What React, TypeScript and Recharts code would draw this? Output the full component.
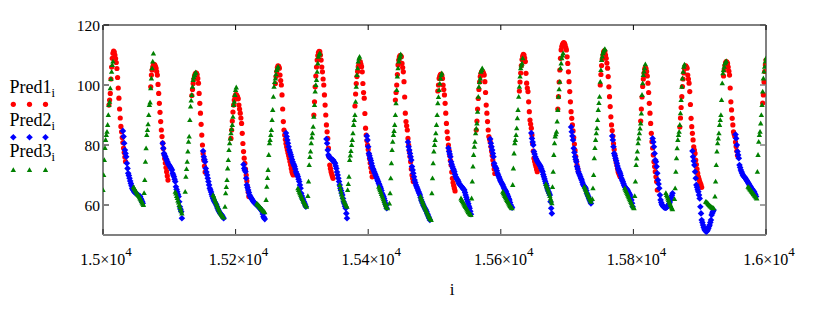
import React from 'react';
import { ScatterChart, Scatter, XAxis, YAxis, ReferenceLine, Legend } from 'recharts';

type Seg = [number, number[]];

// Pred1 (red circles): [first index i, values at i, i+1, ...]
const pred1Segments: Seg[] = [
  [15009, [93.3, 95, 97.2, 102, 106, 108.9, 110.6, 111.3, 111, 110, 108.8, 107.5, 105.5, 102.5, 99, 95.6, 92, 89, 86.2, 84.4, 82.5, 80.8, 79, 77.5, 76, 74.5]],
  [15072, [99.4, 103.3, 105, 106, 106.7, 106.9, 106.7, 106.2, 105.6, 104.5, 103.3, 100.2, 97.2, 93.9, 90.9, 87.8, 85, 82.8, 80.6, 78.8, 77, 75.5, 74, 72.5, 71.1, 69.7, 68.3]],
  [15134, [96.5, 98.5, 100.5, 102, 103, 103.6, 104, 104, 103.5, 102.2, 100.6, 97.2, 93.9, 90.6, 86.9, 83.3, 80, 77.2, 75, 73, 71]],
  [15193, [82.2, 85, 88, 91, 93.3, 95, 96.2, 96.7, 96.8, 96.5, 96, 95.4, 93.3, 92, 90.6, 89, 87.2, 83.9, 80.5, 77.8, 75.6, 73.9, 72, 70, 68, 66, 64.3, 62.8]],
  [15260, [100.5, 102.8, 104.5, 105.8, 106.4, 106.2, 105.6, 103.3, 101.5, 100, 96.7, 92, 87.8, 85, 83.3, 81.8, 80.5, 79.4, 78.4, 77.4, 76.5, 75.6, 74.5, 73.4, 72.2, 71.1, 70.5, 70]],
  [15318, [90, 94.4, 99.4, 103, 106, 108.3, 109.8, 110.8, 111.2, 111.1, 110, 108.3, 106, 104.4, 102, 100, 96.7, 93.3, 90, 86.7, 84.4, 82.2, 79, 76, 73.3, 72.2, 71.1, 70.3, 69.6, 68.9]],
  [15380, [93, 97, 100.5, 102.8, 104.5, 106.1, 107, 107.6, 107.8, 107, 106.1, 104.4, 100.5, 97.5, 95.6, 90.5, 85.6, 83.3, 81.5, 80, 78.5, 77, 75.5, 74, 72.5, 71, 69.4]],
  [15441, [95, 97.5, 100, 103.5, 106.7, 108.3, 109.3, 109.8, 109.8, 109.4, 107.2, 105.8, 104.4, 101.1, 96, 90.6, 87.8, 86.4, 85, 82.2, 80, 78, 76.2, 74.4, 72, 70, 68.9, 67.8]],
  [15505, [98, 100, 102.2, 103, 103.5, 103.6, 103.2, 102.2, 100, 98.5, 96.7, 93.9, 90.6, 87.2, 84.4, 82.2, 80, 78.2, 76.5, 74.9, 73.3, 71, 68.9, 67.5, 66.5, 65.6, 64.7]],
  [15563, [85, 88, 92, 95.5, 98.5, 101, 102.8, 103.8, 104.4, 104.6, 104.4, 103.9, 103.3, 101.1, 97.5, 93.3, 90.6, 87.8, 85, 82.8, 82, 81.1, 79.5, 78, 76.5, 75, 73.5, 72, 70.5]],
  [15628, [98, 101, 104, 106.5, 108.5, 109.6, 110.2, 110, 109, 107.8, 103.9, 100.6, 99, 97.8, 94.4, 91.1, 88.3, 87, 85.6, 83.3, 80.5, 78, 75.6, 74.6, 73.7, 72.8, 71.9, 71.1]],
  [15686, [92, 96.1, 101, 105, 108.9, 111.7, 112.8, 113.5, 113.9, 114.1, 113.9, 113.3, 112.5, 111.7, 109.4, 107.2, 104.4, 101.1, 97.8, 94.4, 91.1, 88.9, 86.7, 84.7, 82.5, 80.3, 78.2, 76.2, 74.6, 73.3, 72.2, 71.1]],
  [15750, [100, 103.5, 106.5, 108.5, 110, 111, 111.4, 111.2, 110, 108.9, 107.3, 105.6, 102.8, 99.4, 96.1, 92.8, 89.4, 86.7, 84.8, 83, 80.5, 78.5, 76.7, 75.5, 74.4, 73.3, 72.2, 71.1, 70.5, 70, 69.4]],
  [15811, [88, 92, 96, 99.5, 102, 104, 105.3, 105.8, 105.5, 104.5, 103, 100.6, 97.5, 93.9, 90.6, 87.2, 83.9, 81.1, 79, 76.7, 74.4, 72.8, 71.1, 69.4, 67.8, 65]],
  [15870, [86, 89, 92.5, 96.1, 99.5, 102, 104, 105.5, 106.3, 106.4, 106, 105.6, 103.3, 102, 100.6, 97.8, 93.5, 88.9, 86.1, 83.9, 81.7, 79.4, 78.3, 77.2, 75, 73.5, 72, 70.6, 69.4, 68.6, 67.8, 67.2, 66.7, 65.9]],
  [15936, [103, 105, 106.5, 107.4, 107.8, 107.6, 107.2, 106, 104.6, 103.3, 99, 94.4, 91.7, 88.9, 86.7, 84.4, 83.6, 82.8, 81, 79.5, 78, 76.5]],
  [15995, [94, 96.7, 101, 104.5, 106.7, 108.3]],
];

// Pred2 (blue diamonds)
const pred2Segments: Seg[] = [
  [15030, [84.7, 82.8, 80.6, 78.3, 77.2, 76.1, 73.9, 72.2, 70.6, 69.8, 68.9, 68, 67.2, 66.4, 65.6, 65.2, 64.8, 64.4, 64.2, 64, 63.9, 63.7, 63.5, 63.3, 63.1, 63, 62.8, 62.2, 61.7, 61.2, 60.6]],
  [15090, [80.6, 78.9, 77.2, 76.6, 76.1, 75.5, 75, 74.4, 73.9, 73.5, 73.2, 72.8, 72.4, 72, 71.7, 70.6, 70, 69.4, 68.6, 67.8, 66.1, 65.2, 64.4, 63.6, 62.8, 61.1, 59.4, 58.6, 57.8, 55.6]],
  [15151, [78, 76.1, 75.2, 74.4, 72.2, 71, 70, 68.9, 67.8, 66.7, 65.6, 65, 64.3, 63.5, 62.8, 62.2, 61.7, 61.2, 60.8, 60.4, 60, 59.4, 58.8, 58.3, 57.9, 57.5, 57.2, 56.9, 56.7, 56.3, 55.9, 55.6]],
  [15212, [73.5, 72.2, 71.6, 71.1, 68.9, 66.7, 65.8, 65, 64.2, 63.3, 62.9, 62.5, 62.2, 61.8, 61.4, 61.1, 60.9, 60.6, 60.4, 60.2, 60, 59.8, 59.5, 59.3, 59.1, 58.9, 58.5, 58.2, 57.8, 57, 56.1, 55.7, 55.3]],
  [15276, [84, 82.8, 81.7, 80.6, 79.4, 78.3, 77.6, 76.8, 76.1, 75.2, 74.4, 73.8, 73.3, 72.8, 72, 71.1, 70.5, 70, 69.4, 68.6, 67.8, 66.7, 65.6, 63.9, 63, 62.2, 61.7, 61.1, 60.6, 60, 59.4]],
  [15337, [82, 80.6, 78.3, 76.7, 76.2, 75.8, 75.6, 75.4, 75.2, 75.1, 75, 74.6, 74.2, 73.9, 73, 72.2, 71, 70, 68.9, 67.8, 66.7, 65.6, 64.8, 64, 63.3, 62.2, 61.1, 60.4, 59.6, 58.9, 57.2, 55.6]],
  [15398, [83, 81.7, 79.4, 77.2, 76.4, 75.6, 74.8, 73.9, 73, 72.2, 71.7, 71.1, 70.6, 70, 69.4, 68.9, 68.3, 67.8, 67.2, 66.7, 66.1, 65.6, 64.8, 63.9, 63.3, 62.8, 62.2, 61.4, 60.6, 59.8, 58.9]],
  [15460, [81, 79.4, 78.3, 77.2, 76.1, 75, 72.8, 71.7, 70.6, 69.4, 68.3, 67.5, 66.7, 66.1, 65.6, 65, 64.4, 63.9, 63.3, 62.5, 61.7, 61.1, 60.6, 60, 59.6, 59.1, 58.7, 58.3, 57.8, 57.2, 56.7, 56.1, 55.6, 55]],
  [15521, [79, 77.8, 77, 76.1, 74.4, 73.6, 72.8, 72.2, 71.7, 71.1, 70.2, 69.4, 69, 68.6, 68.3, 67.8, 67.2, 66.9, 66.6, 66.3, 66.1, 65.8, 65.5, 65.2, 65, 64.2, 63.3, 62.6, 61.8, 61.1, 60.4, 59.6, 58.9, 57.9, 56.9]],
  [15584, [82, 80.6, 79.4, 78.3, 77.2, 76.1, 73.9, 73, 72.6, 72.2, 71.4, 70.6, 70, 69.4, 68.9, 68.3, 67.8, 67.4, 67, 66.7, 66.1, 65.6, 65.2, 64.8, 64.4, 63.8, 63.3, 62.8, 62.2, 61.7, 60.8, 60, 59.5, 59.1]],
  [15646, [84, 82.2, 81, 80, 77.8, 77, 76.1, 75.5, 75, 74.6, 74.2, 73.9, 73.5, 73.2, 72.8, 72.2, 71.6, 71.1, 70.2, 69.4, 68.7, 67.9, 67.2, 66.5, 65.7, 65, 64.4, 63.9, 63.3, 61.1, 58.9, 57.2]],
  [15706, [86, 84.4, 83, 81.7, 78.9, 77.5, 76.1, 75.2, 74.4, 72.8, 72, 71.1, 70.5, 70, 69.4, 68.8, 68.3, 67.6, 66.9, 66.5, 66.2, 65.9, 65.6, 64.8, 63.9, 63.3, 62.8, 62.2, 61.7, 61.1, 60.5]],
  [15768, [83, 81.7, 79.4, 77.2, 76.4, 75.6, 74.8, 73.9, 73, 72.2, 71.6, 71.1, 70.6, 69.8, 68.9, 68.3, 67.8, 67.2, 66.6, 66.1, 65.8, 65.5, 65.3, 65, 64.6, 64.1, 63.7, 63.3, 62.5, 61.7, 60.6, 59.4]],
  [15829, [82.2, 81, 79.4, 77.2, 75, 74.4, 72.8, 70.6, 68.3, 67, 65.6, 63.3, 61.7, 60.8, 60.2, 59.8, 59.5, 59.3, 59.2, 59.1, 59.1, 59.2, 59.4, 59.7, 60, 60.5, 61, 61.7, 62.4, 63.2, 63.9]],
  [15889, [78, 76.1, 74.7, 73.3, 71.1, 68.9, 66.7, 65.9, 65.1, 64.4, 63.3, 62.2, 59.4, 57.2, 55, 54.2, 53.3, 52.6, 52, 51.6, 51.3, 51.1, 51.3, 51.7, 52.2, 52.8, 53.3, 54.2, 55, 56.7, 57.3, 57.8, 58.3]],
  [15954, [83.5, 82.2, 80, 77.8, 76.7, 75.6, 73.3, 72.5, 71.7, 71.1, 70.6, 70, 69.7, 69.4, 69.2, 68.9, 68.5, 68.2, 67.8, 67.4, 67.1, 66.7, 66.3, 66, 65.6, 65.3, 65, 64.7, 64.4, 63.9, 63.4, 62.8]],
];

// Pred3 (green triangles)
const pred3Segments: Seg[] = [
  [15000, [65, 70, 75, 79, 81.7, 83.3, 84.4, 86.7, 90, 93.3, 94.4, 98.9, 102, 104.4, 106.7, 107.8]],
  [15046, [66, 65.6, 65.2, 64.8, 64.4, 64, 63.6, 63.3, 63, 62.6, 62.2, 61.8, 61.3, 60.8, 60.4, 60]],
  [15062, [64, 68.3, 74.4, 78.9, 83.3, 85, 86.9, 90, 93.3, 94.2, 98.9, 102.2, 105.6, 107.8, 110.5]],
  [15109, [64.4, 63.8, 63, 62.3, 61.5, 60.8, 60, 59.3, 58.6, 57.9, 57.2]],
  [15124, [64.4, 69.4, 72, 74.4, 77.8, 81.1, 82.8, 88.3, 92.8, 94.8, 96.7, 99.4, 101.7, 102.6, 103.3, 103.9, 104.2]],
  [15166, [63.3, 62.8, 62.2, 61.6, 61, 60.4, 59.9, 59.3, 58.8, 58.3, 57.8, 57.4, 57, 56.7, 56.4, 56.1, 55.8]],
  [15184, [59.4, 63.9, 66, 68.3, 72.2, 75, 78.3, 80.6, 82.2, 83.9, 85.3, 86.7, 89.4, 93.3, 94.4, 96.7, 98.3, 99.2]],
  [15232, [60.5, 60.2, 60, 59.8, 59.5, 59.2, 59, 58.7, 58.5, 58.2, 58, 57.8, 57.6]],
  [15246, [61.7, 66.1, 69, 71.7, 76.7, 80.6, 81.7, 83.3, 85, 88.3, 91.7, 96.1, 99.4, 101, 102.2, 103.6, 105, 105.6, 106.1]],
  [15294, [65.6, 65, 64.4, 63.9, 63.4, 62.9, 62.4, 62, 61.5, 61, 60.6, 60.2, 59.8, 59.4]],
  [15309, [63, 67.8, 73.3, 76, 77.8, 80.6, 82.5, 83.9, 86.1, 89.4, 93.3, 97.8, 100, 101.7, 104.4, 107.2, 109.4, 110.2, 110.6]],
  [15357, [66.7, 65.6, 64.5, 63.5, 62.8, 62.2, 61.6, 61.1, 60.6, 60.2, 59.8, 59.4]],
  [15369, [65, 67, 69.4, 75, 76.5, 78, 80, 81.7, 83.9, 86.7, 88.3, 90, 94.4, 99.4, 103.3, 105.6, 107.8, 108.8, 109.4]],
  [15416, [66.1, 65.5, 64.9, 64.3, 63.7, 63.1, 62.5, 61.9, 61.3, 60.7, 60.1, 59.6, 59.2, 58.9]],
  [15432, [60.5, 63.9, 68.9, 73.9, 78.3, 81.1, 83.3, 84.7, 86.7, 90, 93.9, 98.3, 102.8, 105.6, 107.8, 108.8, 109.4, 110.2]],
  [15479, [62.8, 62.2, 61.6, 61, 60.4, 59.9, 59.4, 58.9, 58.4, 57.9, 57.4, 56.9, 56.4, 56, 55.6, 55.3, 55]],
  [15496, [63.9, 68.9, 73.9, 77.8, 80, 81.7, 83.9, 86.7, 90, 93.9, 96, 98.3, 100.5, 102.2, 103.3, 103.9]],
  [15540, [62.2, 61.7, 61.3, 60.9, 60.5, 60.1, 59.7, 59.3, 58.9, 58.5, 58.1, 57.7, 57.4, 57.1, 56.9, 56.7]],
  [15556, [62.2, 67.8, 72.8, 76.7, 79.4, 81.1, 83.9, 85.5, 87.2, 91.1, 96.1, 99.4, 101, 102.2, 104.4, 105, 105.6]],
  [15603, [64.4, 63.9, 63.5, 63, 62.6, 62.2, 61.7, 61.3, 60.9, 60.5, 60.1, 59.7, 59.4, 59.1, 58.9]],
  [15618, [66.7, 72.2, 77.2, 80.6, 81.7, 83.3, 85.6, 88.9, 91.7, 96.1, 99.4, 102.8, 105.6, 106.5, 107.2, 108.9]],
  [15668, [67, 66.4, 65.8, 65.2, 64.5, 63.8, 63, 62.2, 61.4, 60.6]],
  [15678, [66, 71.1, 76.7, 80.6, 82.8, 83.6, 84.4, 87.8, 91.7, 96.1, 98.6, 101.1, 105.6, 107.2, 108.9, 109.8, 110.6]],
  [15726, [66.1, 65.6, 65.1, 64.6, 64.1, 63.6, 63.1, 62.6, 62.1, 61.6, 61.1]],
  [15738, [62, 65.6, 70, 75.6, 79, 81.7, 83.9, 85.6, 88.3, 91.7, 94, 96.1, 101.1, 105, 108.3, 109.5, 110.6, 111.2, 111.7, 112]],
  [15787, [65.6, 65.1, 64.6, 64.1, 63.6, 63.1, 62.6, 62.1, 61.6, 61.1, 60.6, 60.1, 59.6, 59.2, 58.9]],
  [15802, [63, 67.8, 73.3, 75.5, 77.8, 80.6, 82.2, 83.9, 85.5, 87.2, 90.5, 96.7, 100.6, 103.3, 104.5, 105.6, 106.9]],
  [15849, [64, 63.3, 62.8, 62.2, 61.7, 61.1, 60.6, 60, 59.4, 58.9, 58.6]],
  [15862, [62, 65.6, 71.1, 75.6, 78.9, 81.7, 83.3, 84.4, 86.7, 90.6, 95, 99.4, 102.2, 104.4, 106.1, 106.8]],
  [15909, [61.1, 61, 60.8, 60.6, 60.3, 60, 59.8, 59.6, 59.4, 59.2, 59.1, 59, 58.9]],
  [15923, [62.8, 67.8, 73.3, 77.8, 80.6, 82.2, 83.9, 86.7, 88.3, 90, 95, 100.6, 103.9, 105, 106.1, 107.2, 107.6, 108]],
  [15973, [66.1, 65.8, 65.5, 65.2, 64.9, 64.6, 64.3, 64, 63.7, 63.4, 63.1, 62.8, 62.5, 62.2]],
  [15987, [71.1, 76.7, 81.1, 83.3, 84.4, 87.2, 90, 93.3, 97.8, 102.2, 104.5, 106.1, 107.8, 108.9]],
];

const xTicks = [15000, 15200, 15400, 15600, 15800, 16000];
const xTickMantissas = ['1.5', '1.52', '1.54', '1.56', '1.58', '1.6'];
const xTickExponent = '4';
const yTicks = [60, 80, 100, 120];
const seriesNames = ['Pred1', 'Pred2', 'Pred3'];
const seriesSubscript = 'i';
const xAxisTitle = 'i';

const FONT = "'Liberation Serif', 'Times New Roman', serif";
const RED = '#ff0000';
const BLUE = '#0000ff';
const GREEN = '#008000';
const FRAME = '#808080';

const toPoints = (segs: Seg[]) =>
  segs.flatMap(([start, ys]) => ys.map((y, k) => ({ x: start + k, y })));

const pred1 = toPoints(pred1Segments);
const pred2 = toPoints(pred2Segments);
const pred3 = toPoints(pred3Segments);

const circleAt = (cx: number, cy: number, key?: string) => (
  <circle key={key} cx={cx} cy={cy} r={2.6} fill={RED} />
);
const diamondAt = (cx: number, cy: number, key?: string) => (
  <polygon
    key={key}
    points={`${cx},${cy - 3.3} ${cx + 3.3},${cy} ${cx},${cy + 3.3} ${cx - 3.3},${cy}`}
    fill={BLUE}
  />
);
const triangleAt = (cx: number, cy: number, key?: string) => (
  <polygon
    key={key}
    points={`${cx},${cy - 2.8} ${cx + 2.7},${cy + 2} ${cx - 2.7},${cy + 2}`}
    fill={GREEN}
  />
);

const RedShape = (p: any) => circleAt(p.cx, p.cy);
const BlueShape = (p: any) => diamondAt(p.cx, p.cy);
const GreenShape = (p: any) => triangleAt(p.cx, p.cy);

const XTick = (props: any) => {
  const { x, payload } = props;
  const idx = xTicks.indexOf(payload.value);
  return (
    <g>
      <line x1={x} y1={234} x2={x} y2={229} stroke="#222" strokeWidth={1} />
      <line x1={x} y1={25} x2={x} y2={30} stroke="#000" strokeWidth={1} />
      <text x={x + 3} y={265} textAnchor="middle" fontFamily={FONT} fontSize={16} fill="#000">
        {xTickMantissas[idx]}×10
        <tspan dy={-9} fontSize={13}>
          {xTickExponent}
        </tspan>
      </text>
    </g>
  );
};

const YTick = (props: any) => {
  const { y, payload } = props;
  return (
    <g>
      <line x1={104} y1={y} x2={109} y2={y} stroke="#000" strokeWidth={1} />
      <line x1={765} y1={y} x2={760} y2={y} stroke="#444" strokeWidth={1} />
      <text x={100} y={y + 6} textAnchor="end" fontFamily={FONT} fontSize={15.5} fill="#000">
        {payload.value}
      </text>
    </g>
  );
};

const XTitle = () => (
  <text x={452} y={295} textAnchor="middle" fontFamily={FONT} fontSize={17} fill="#000">
    {xAxisTitle}
  </text>
);

const legendRows = [
  { textY: 93, markY: 104.3, draw: circleAt },
  { textY: 125.5, markY: 137.3, draw: diamondAt },
  { textY: 157, markY: 170, draw: triangleAt },
];
const legendMarkXs = [13.3, 29.5, 45.5];

const LegendContent = () => (
  <svg width={80} height={190} style={{ display: 'block', overflow: 'visible' }}>
    {legendRows.map((row, r) => (
      <g key={r}>
        <text x={9.5} y={row.textY} fontFamily={FONT} fontSize={18} fill="#000">
          {seriesNames[r]}
          <tspan fontSize={12.5} dy={4}>
            {seriesSubscript}
          </tspan>
        </text>
        {legendMarkXs.map((mx, k) => row.draw(mx, row.markY, `${r}-${k}`))}
      </g>
    ))}
  </svg>
);

export default function App() {
  return (
    <div style={{ position: 'absolute', left: 0, top: 0, background: '#fff' }}>
      <ScatterChart
        width={830}
        height={311}
        margin={{ top: 25, right: 64, bottom: 36, left: 63 }}
      >
        <XAxis
          dataKey="x"
          type="number"
          domain={[15000, 16000]}
          ticks={xTicks}
          interval={0}
          allowDataOverflow
          height={40}
          axisLine={{ stroke: FRAME, strokeWidth: 2 }}
          tickLine={false}
          tick={<XTick />}
          label={<XTitle />}
        />
        <YAxis
          dataKey="y"
          type="number"
          domain={[50, 120]}
          ticks={yTicks}
          interval={0}
          allowDataOverflow
          width={40}
          axisLine={{ stroke: FRAME, strokeWidth: 2 }}
          tickLine={false}
          tick={<YTick />}
        />
        <ReferenceLine y={120} stroke="#000" strokeWidth={1} />
        <ReferenceLine x={16000} stroke={FRAME} strokeWidth={2} />
        <Legend
          layout="vertical"
          align="center"
          verticalAlign="middle"
          wrapperStyle={{ left: 0, top: 0, width: 80, height: 190 }}
          content={<LegendContent />}
        />
        <Scatter name="Pred1" data={pred1} shape={RedShape} isAnimationActive={false} />
        <Scatter name="Pred2" data={pred2} shape={BlueShape} isAnimationActive={false} />
        <Scatter name="Pred3" data={pred3} shape={GreenShape} isAnimationActive={false} />
      </ScatterChart>
    </div>
  );
}
